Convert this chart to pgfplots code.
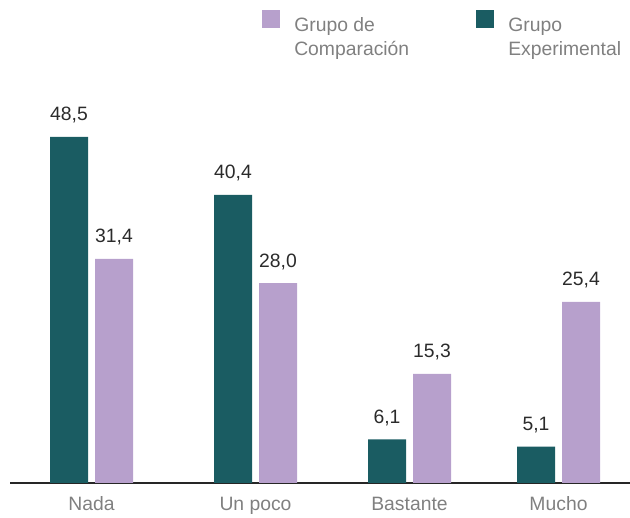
\documentclass[border=0pt]{standalone}
\usepackage{fontspec}
\setmainfont{Liberation Sans}
\usepackage{pgfplots}
\pgfplotsset{compat=1.18}
\definecolor{tealbar}{HTML}{1A5C62}
\definecolor{lila}{HTML}{B7A0CC}
\definecolor{labgray}{HTML}{808080}
\definecolor{valtxt}{HTML}{2B2B2B}

\begin{document}
\begin{tikzpicture}
\begin{axis}[
  x=0.75pt, y=5.3505pt,
  xmin=10, xmax=630, ymin=0, ymax=67.7,
  clip=false,
  axis x line*=bottom, axis y line=none,
  x axis line style={line width=1.1pt, -, black!85},
  ybar, bar width=28.5pt,
  xtick={91.5,255.5,409.5,558.5},
  xticklabels={Nada, Un poco, Bastante, Mucho},
  major tick length=0pt,
  xticklabel style={font=\fontsize{14.5}{17}\selectfont, text=labgray, anchor=base, inner sep=0pt, yshift=-21pt},
  nodes near coords={\pgfmathprintnumber[fixed, fixed zerofill, precision=1, use comma, assume math mode=true]{\pgfplotspointmeta}},
  every node near coord/.append style={font=\fontsize{14.5}{17}\selectfont, text=valtxt, anchor=base, yshift=12pt},
  legend style={at={(axis cs:262,66.35)}, anchor=north west, draw=none, fill=none,
    inner sep=0pt, nodes={inner sep=0pt},
    font=\fontsize{14.5}{18}\selectfont, text=labgray,
    /tikz/every odd column/.append style={column sep=10.5pt}},
  legend columns=2,
]
\addplot[fill=tealbar, draw=none, bar shift=-16.875pt, forget plot]
  coordinates {(91.5,48.5) (255.5,40.4) (409.5,6.1) (558.5,5.1)};
\addplot[fill=lila, draw=none, bar shift=16.875pt, forget plot]
  coordinates {(91.5,31.4) (255.5,28.0) (409.5,15.3) (558.5,25.4)};
\addlegendimage{fill=lila, draw=none, legend image code/.code={\fill[lila] (0pt,-1.5pt) rectangle (13.5pt,12pt);}}
\addlegendentry{\parbox[t]{136.5pt}{Grupo de\\Comparación}}
\addlegendimage{fill=tealbar, draw=none, legend image code/.code={\fill[tealbar] (0pt,-1.5pt) rectangle (13.5pt,12pt);}}
\addlegendentry{\parbox[t]{100pt}{Grupo\\Experimental}}
\coordinate (bl) at (axis cs:10,-4.8);
\coordinate (tr) at (axis cs:630,67.7);
\end{axis}
\pgfresetboundingbox
\useasboundingbox ([xshift=-7.5pt]bl) rectangle (tr);
\end{tikzpicture}
\end{document}
